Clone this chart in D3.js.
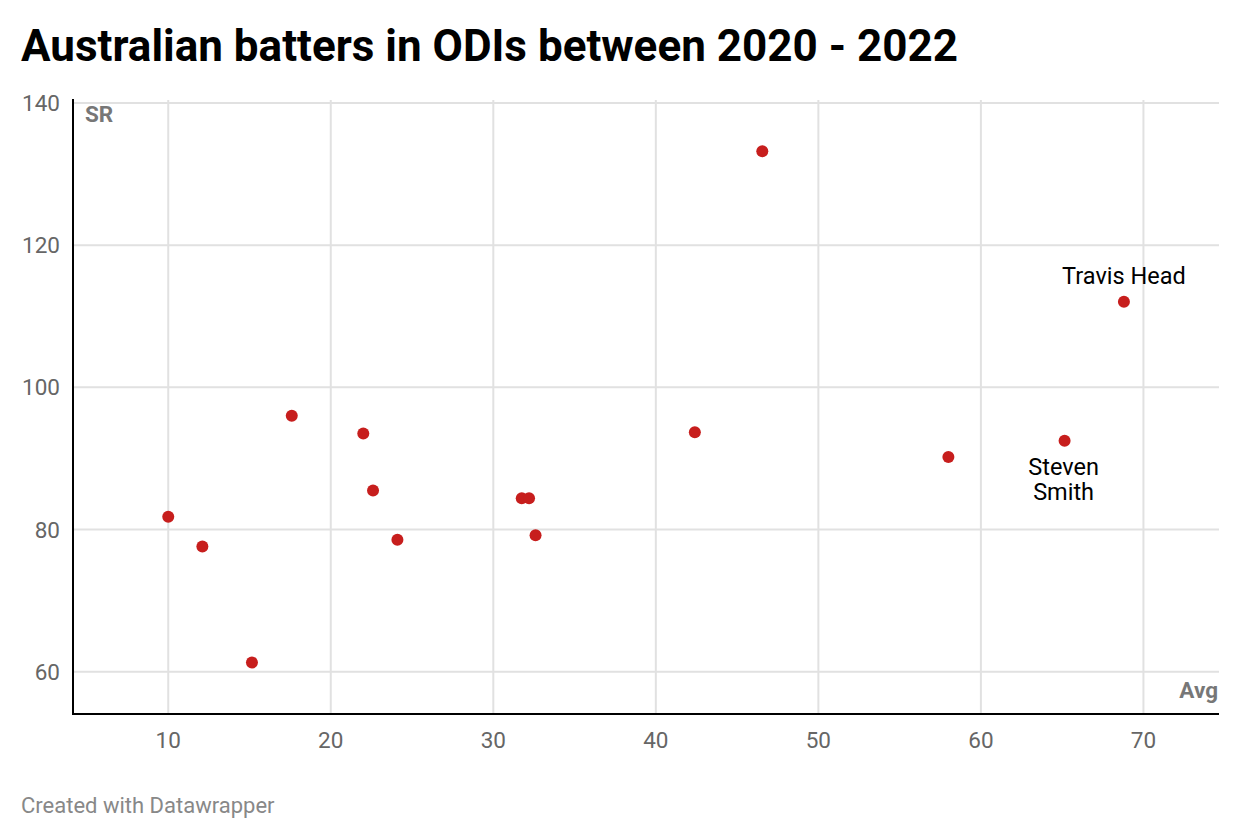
<!DOCTYPE html>
<html>
<head>
<meta charset="utf-8">
<script src="https://cdn.jsdelivr.net/npm/d3@7"></script>
<style>
  body { margin: 0; background: #fff; }
  svg { font-family: Roboto, "Noto Sans", sans-serif; }
</style>
</head>
<body>
<svg id="chart" width="1240" height="840"></svg>
<script>
// Batting average (x) and strike rate (y) per batter
const avg = [10.0, 12.1, 15.15, 17.6, 22.0, 22.6, 24.1, 31.75, 32.2, 32.6, 42.4, 46.55, 58.0, 65.15, 68.8];
const sr = [81.8, 77.6, 61.3, 96.0, 93.5, 85.5, 78.55, 84.4, 84.4, 79.2, 93.7, 133.2, 90.2, 92.5, 112.05];
const names = ["", "", "", "", "", "", "", "", "", "", "", "", "", "Steven Smith", "Travis Head"];

const xTicks = [10, 20, 30, 40, 50, 60, 70];
const yTicks = [60, 80, 100, 120, 140];

const svg = d3.select("#chart");

const plotLeft = 73, plotRight = 1219, plotTop = 103, plotBottom = 714;

const x = d3.scaleLinear().domain([4.14, 74.65]).range([plotLeft, plotRight]);
const y = d3.scaleLinear().domain([54.05, 140]).range([plotBottom, plotTop]);

// title
svg.append("text")
    .attr("x", 21)
    .attr("y", 61)
    .attr("font-size", 44)
    .attr("font-weight", 700)
    .attr("fill", "#000")
    .text("Australian batters in ODIs between 2020 - 2022");

// grid
svg.append("g")
    .selectAll("line")
    .data(yTicks)
    .join("line")
    .attr("x1", plotLeft)
    .attr("x2", plotRight)
    .attr("y1", d => y(d))
    .attr("y2", d => y(d))
    .attr("stroke", "#e1e1e1")
    .attr("stroke-width", 2);

svg.append("g")
    .selectAll("line")
    .data(xTicks)
    .join("line")
    .attr("x1", d => x(d))
    .attr("x2", d => x(d))
    .attr("y1", plotTop - 3)
    .attr("y2", plotBottom)
    .attr("stroke", "#e1e1e1")
    .attr("stroke-width", 2);

// tick labels
svg.append("g")
    .selectAll("text")
    .data(yTicks)
    .join("text")
    .attr("x", 60)
    .attr("y", d => y(d) + 8)
    .attr("text-anchor", "end")
    .attr("font-size", 22.5)
    .attr("fill", "#666")
    .text(d => d);

svg.append("g")
    .selectAll("text")
    .data(xTicks)
    .join("text")
    .attr("x", d => x(d))
    .attr("y", 748)
    .attr("text-anchor", "middle")
    .attr("font-size", 22.5)
    .attr("fill", "#666")
    .text(d => d);

// axis lines
svg.append("line")
    .attr("x1", plotLeft).attr("x2", plotLeft)
    .attr("y1", plotTop - 4).attr("y2", plotBottom + 1)
    .attr("stroke", "#000").attr("stroke-width", 2);
svg.append("line")
    .attr("x1", plotLeft - 1).attr("x2", plotRight)
    .attr("y1", plotBottom).attr("y2", plotBottom)
    .attr("stroke", "#000").attr("stroke-width", 2);

// axis titles
svg.append("text")
    .attr("x", 85)
    .attr("y", 122)
    .attr("font-size", 22.5)
    .attr("font-weight", 700)
    .attr("fill", "#777")
    .text("SR");
svg.append("text")
    .attr("x", 1218)
    .attr("y", 698)
    .attr("text-anchor", "end")
    .attr("font-size", 22.5)
    .attr("font-weight", 700)
    .attr("fill", "#777")
    .text("Avg");

// points
const pts = avg.map((a, i) => ({ avg: a, sr: sr[i], name: names[i] }));

svg.append("g")
    .selectAll("circle")
    .data(pts)
    .join("circle")
    .attr("cx", d => x(d.avg))
    .attr("cy", d => y(d.sr))
    .attr("r", 6)
    .attr("fill", "#c71e1d");

// labels
const th = pts.find(d => d.name === "Travis Head");
svg.append("text")
    .attr("x", x(th.avg))
    .attr("y", y(th.sr) - 17.5)
    .attr("text-anchor", "middle")
    .attr("font-size", 23.5)
    .attr("fill", "#000")
    .text(th.name);

const ss = pts.find(d => d.name === "Steven Smith");
const ssText = svg.append("text")
    .attr("y", y(ss.sr) + 34)
    .attr("text-anchor", "middle")
    .attr("font-size", 23.5)
    .attr("fill", "#000");
ss.name.split(" ").forEach((w, i) => {
    ssText.append("tspan")
        .attr("x", x(ss.avg) - 1)
        .attr("dy", i === 0 ? 0 : 25.5)
        .text(w);
});

// footer
svg.append("text")
    .attr("x", 21)
    .attr("y", 813)
    .attr("font-size", 22)
    .attr("fill", "#888")
    .text("Created with Datawrapper");
</script>
</body>
</html>
